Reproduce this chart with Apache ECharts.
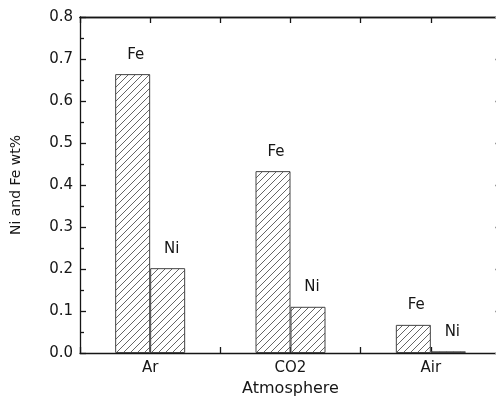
<!DOCTYPE html>
<html>
<head>
<meta charset="utf-8">
<script src="https://cdn.jsdelivr.net/npm/echarts@6/dist/echarts.min.js"></script>
<style>
html, body { margin: 0; background: #fff; }
#chart { width: 496px; height: 408px; }
</style>
</head>
<body>
<div id="chart"></div>
<script>
// data
const atmospheres = ['Ar', 'CO2', 'Air'];
const feValues = [0.664, 0.433, 0.067];
const niValues = [0.202, 0.110, 0.004];
const feLabel = 'Fe';
const niLabel = 'Ni';

const ink = '#161616';
const font = 'DejaVu Sans';

// hatch pattern "////"
function makeHatch() {
	let c = document.createElement('canvas');
	c.width = 7;
	c.height = 7;
	let g = c.getContext('2d');
	g.fillStyle = '#fff';
	g.fillRect(0, 0, 7, 7);
	g.strokeStyle = '#555';
	g.lineWidth = 0.9;
	g.beginPath();
	g.moveTo(-1, 8); g.lineTo(8, -1);
	g.moveTo(-1, 1); g.lineTo(1, -1);
	g.moveTo(6, 8); g.lineTo(8, 6);
	g.stroke();
	return c;
}
const hatch = { image: makeHatch(), repeat: 'repeat' };

let myChart = echarts.init(document.getElementById('chart'));

function tickAxis(position, align) {
	return {
		type: 'category',
		position: position,
		data: atmospheres,
		axisLine: { show: position === 'top', lineStyle: { color: ink, width: 1.3 } },
		axisTick: { show: true, inside: true, length: 6, alignWithLabel: align, lineStyle: { color: ink, width: 1.3 } },
		axisLabel: { show: false },
		splitLine: { show: false }
	};
}

let barStyle = {
	color: hatch,
	borderColor: '#444',
	borderWidth: 1
};

option = {
	animation: false,
	backgroundColor: '#fff',
	textStyle: { fontFamily: font },
	grid: { left: 80, width: 421, top: 17, bottom: 55, outerBoundsMode: 'none', containLabel: false },
	xAxis: [{
		type: 'category',
		position: 'bottom',
		data: atmospheres,
		name: 'Atmosphere',
		nameLocation: 'middle',
		nameGap: 27,
		nameTextStyle: { color: ink, fontSize: 16, fontFamily: font },
		axisLine: { show: true, lineStyle: { color: ink, width: 1.3 } },
		axisTick: { show: true, inside: true, length: 6, alignWithLabel: true, lineStyle: { color: ink, width: 1.3 } },
		axisLabel: { color: ink, fontSize: 15, fontFamily: font, margin: 8 }
	},
	tickAxis('bottom', false),
	tickAxis('top', true),
	tickAxis('top', false)
	],
	yAxis: [{
		type: 'value',
		min: 0,
		max: 0.8,
		interval: 0.1,
		name: 'Ni and Fe wt%',
		nameLocation: 'middle',
		nameGap: 57,
		nameTextStyle: { color: ink, fontSize: 14, fontFamily: font },
		axisLine: { show: true, lineStyle: { color: ink, width: 1.3 } },
		axisTick: { show: true, inside: true, length: 6, lineStyle: { color: ink, width: 1.3 } },
		minorTick: { show: true, splitNumber: 2, length: 4, lineStyle: { color: ink, width: 1.3 } },
		axisLabel: {
			color: ink, fontSize: 15, fontFamily: font, margin: 7,
			formatter: v => v.toFixed(1)
		},
		splitLine: { show: false }
	}, {
		type: 'value',
		position: 'right',
		min: 0,
		max: 0.8,
		interval: 0.1,
		axisLine: { show: true, lineStyle: { color: ink, width: 1.3 } },
		axisTick: { show: true, inside: true, length: 6, lineStyle: { color: '#999', width: 1.3 } },
		minorTick: { show: true, splitNumber: 2, length: 4, lineStyle: { color: '#bbb', width: 1.3 } },
		axisLabel: { show: false },
		splitLine: { show: false }
	}],
	series: [{
		name: feLabel,
		type: 'bar',
		data: feValues,
		barWidth: 35,
		barGap: '0%',
		itemStyle: barStyle,
		label: {
			show: true,
			position: 'top',
			distance: 12,
			offset: [3, 0],
			formatter: feLabel,
			color: ink,
			fontSize: 15,
			fontFamily: font
		}
	}, {
		name: niLabel,
		type: 'bar',
		data: niValues,
		barWidth: 35,
		barGap: '0%',
		itemStyle: barStyle,
		label: {
			show: true,
			position: 'top',
			distance: 12,
			offset: [4, 0],
			formatter: niLabel,
			color: ink,
			fontSize: 15,
			fontFamily: font
		}
	}]
};

myChart.setOption(option);
</script>
</body>
</html>
